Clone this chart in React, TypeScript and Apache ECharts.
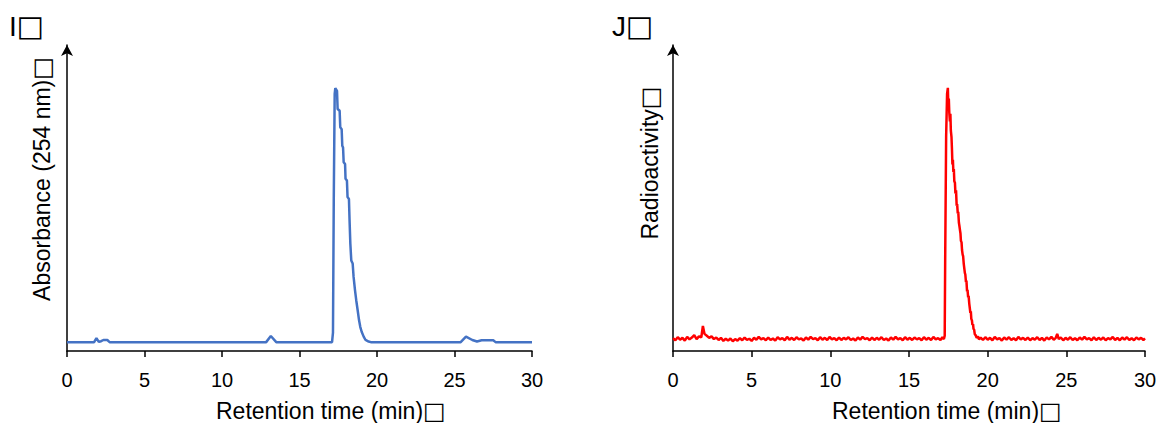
import React, { useEffect, useRef } from "react";
import * as echarts from "echarts";

// Retention time axis (min)
const timeMin = 0;
const timeMax = 30;
const timeStep = 5;

// UV trace at 254 nm: [retention time (min), absorbance (a.u.)]
const uvTrace: [number, number][] = [
  [0, 2.9], [1.75, 2.9], [1.9, 4.2], [2.05, 3.0], [2.2, 3.2], [2.35, 3.6], [2.6, 3.6], [2.75, 2.9],
  [12.85, 2.9], [13.15, 4.9], [13.5, 2.9],
  [17.1, 2.9], [17.16, 6.0], [17.21, 49.0], [17.27, 84.0], [17.31, 85.9], [17.42, 85.0],
  [17.46, 79.1], [17.59, 78.5], [17.63, 73.1], [17.72, 72.5], [17.76, 67.1], [17.81, 66.5],
  [17.85, 61.7], [17.94, 61.1], [17.97, 56.3], [18.06, 55.7], [18.1, 50.3], [18.19, 49.7],
  [18.23, 42.7], [18.28, 35.1], [18.34, 29.6], [18.43, 28.6], [18.49, 24.2], [18.58, 19.9],
  [18.66, 16.6], [18.75, 13.4], [18.84, 10.1], [18.92, 7.9], [19.01, 6.3], [19.14, 4.7],
  [19.26, 3.6], [19.46, 3.1], [19.6, 2.9],
  [25.4, 2.9], [25.74, 4.7], [26.15, 3.6], [26.45, 3.1], [26.75, 3.5], [27.5, 3.5], [27.65, 2.9],
  [30, 2.9],
];

// Radio trace: [retention time (min), counts (a.u.)]
const radioTrace: [number, number][] = [
  [0.0, 4.2], [0.15, 3.5], [0.3, 4.5], [0.45, 3.7], [0.6, 4.3], [0.75, 3.4], [0.9, 4.6], [1.05, 3.8],
  [1.2, 4.4], [1.35, 5.2], [1.5, 3.9], [1.65, 4.8], [1.8, 4.5], [1.9, 8.2], [2.0, 5.6], [2.15, 5.0],
  [2.3, 4.3], [2.45, 4.8], [2.6, 3.9], [2.75, 4.4], [2.9, 3.6], [3.05, 4.3], [3.2, 3.3], [3.35, 4.0],
  [3.5, 3.4], [3.65, 4.1], [3.8, 3.2], [3.95, 3.9], [4.1, 3.4], [4.25, 4.2], [4.4, 3.5], [4.55, 4.4],
  [4.7, 3.6], [4.85, 4.0], [5.0, 3.3], [5.15, 4.3], [5.3, 3.7], [5.45, 4.6], [5.6, 3.8], [5.75, 4.2],
  [5.9, 3.5], [6.05, 4.4], [6.2, 3.6], [6.35, 4.1], [6.5, 3.4], [6.65, 4.5], [6.8, 3.8], [6.95, 4.2],
  [7.1, 3.5], [7.25, 4.6], [7.4, 3.7], [7.55, 4.3], [7.7, 3.6], [7.85, 4.5], [8.0, 3.8], [8.15, 4.1],
  [8.3, 3.4], [8.45, 4.4], [8.6, 3.7], [8.75, 4.6], [8.9, 3.9], [9.05, 4.2], [9.2, 3.5], [9.35, 4.5],
  [9.5, 3.7], [9.65, 4.3], [9.8, 3.6], [9.95, 4.6], [10.1, 3.8], [10.25, 4.2], [10.4, 3.5], [10.55, 4.4],
  [10.7, 3.6], [10.85, 4.3], [11.0, 3.8], [11.15, 4.5], [11.3, 3.6], [11.45, 4.1], [11.6, 3.4], [11.75, 4.4],
  [11.9, 3.7], [12.05, 4.6], [12.2, 3.9], [12.35, 4.2], [12.5, 3.5], [12.65, 4.4], [12.8, 3.6], [12.95, 4.3],
  [13.1, 3.7], [13.25, 4.5], [13.4, 3.6], [13.55, 4.1], [13.7, 3.4], [13.85, 4.4], [14.0, 3.7], [14.15, 4.6],
  [14.3, 3.8], [14.45, 4.2], [14.6, 3.5], [14.75, 4.5], [14.9, 3.7], [15.05, 4.3], [15.2, 3.6], [15.35, 4.4],
  [15.5, 3.8], [15.65, 4.2], [15.8, 3.5], [15.95, 4.5], [16.1, 3.7], [16.25, 4.3], [16.4, 3.6], [16.55, 4.6],
  [16.7, 3.8], [16.85, 4.2], [17.0, 3.6], [17.12, 4.5], [17.22, 3.9],
  [17.27, 5.0], [17.3, 30.0], [17.36, 70.0], [17.42, 84.0], [17.47, 86.0], [17.5, 80.0], [17.53, 82.5],
  [17.56, 78.0], [17.6, 75.0], [17.63, 77.5], [17.66, 72.0], [17.7, 70.0], [17.73, 66.0], [17.76, 61.0],
  [17.79, 62.5], [17.82, 58.5], [17.85, 59.5], [17.88, 55.5], [17.92, 55.0], [17.95, 51.5], [17.99, 52.5],
  [18.03, 47.5], [18.06, 48.0], [18.1, 45.0], [18.13, 45.5], [18.17, 42.0], [18.2, 41.0], [18.24, 39.5],
  [18.27, 38.5], [18.3, 36.0], [18.34, 35.5], [18.37, 33.0], [18.41, 31.5], [18.44, 31.0], [18.48, 28.5],
  [18.51, 28.5], [18.55, 25.5], [18.58, 25.0], [18.62, 22.5], [18.65, 23.0], [18.69, 19.5], [18.72, 20.0],
  [18.76, 17.5], [18.79, 18.0], [18.83, 15.5], [18.86, 15.5], [18.9, 12.5], [18.93, 13.0], [18.96, 10.5],
  [19.0, 10.0], [19.03, 8.5], [19.07, 8.8], [19.1, 7.2], [19.14, 7.0], [19.18, 5.5], [19.23, 5.2],
  [19.3, 4.3], [19.38, 4.8], [19.45, 3.8], [19.55, 4.4],
  [19.7, 3.6], [19.85, 4.5], [20.0, 3.7], [20.15, 4.3], [20.3, 3.5], [20.45, 4.6], [20.6, 3.8], [20.75, 4.2],
  [20.9, 3.4], [21.05, 4.4], [21.2, 3.7], [21.35, 4.5], [21.5, 3.6], [21.65, 4.2], [21.8, 3.5], [21.95, 4.6],
  [22.1, 3.8], [22.25, 4.3], [22.4, 3.6], [22.55, 4.4], [22.7, 3.5], [22.85, 4.2], [23.0, 3.7], [23.15, 4.5],
  [23.3, 3.6], [23.45, 4.3], [23.6, 3.4], [23.75, 4.4], [23.9, 3.8], [24.05, 4.6], [24.2, 3.7], [24.32, 4.2],
  [24.42, 5.6], [24.52, 3.9], [24.65, 4.4], [24.8, 3.5], [24.95, 4.3], [25.1, 3.7], [25.25, 4.5], [25.4, 3.6],
  [25.55, 4.2], [25.7, 3.5], [25.85, 4.4], [26.0, 3.7], [26.15, 4.6], [26.3, 3.8], [26.45, 4.2], [26.6, 3.5],
  [26.75, 4.5], [26.9, 3.6], [27.05, 4.3], [27.2, 3.7], [27.35, 4.4], [27.5, 3.5], [27.65, 4.2], [27.8, 3.8],
  [27.95, 4.6], [28.1, 3.6], [28.25, 4.3], [28.4, 3.5], [28.55, 4.4], [28.7, 3.7], [28.85, 4.5], [29.0, 3.6],
  [29.15, 4.2], [29.3, 3.5], [29.45, 4.4], [29.6, 3.8], [29.75, 4.3], [29.9, 3.6], [30.0, 4.1],
];

const panelLetters = ["I", "J"];
const xTitle = "Retention time (min)";
const yTitles = ["Absorbance (254 nm)", "Radioactivity"];
const boxMark = "\u25A1";

const FONT = "'Liberation Sans', Arial, sans-serif";

export default function App() {
  const ref = useRef<HTMLDivElement>(null);

  useEffect(() => {
    if (!ref.current) return;
    const chart = echarts.init(ref.current, null, { renderer: "svg" });

    const xAxis = (gridIndex: number) => ({
      type: "value",
      gridIndex,
      min: timeMin,
      max: timeMax,
      interval: timeStep,
      axisLine: { show: true, onZero: false, lineStyle: { color: "#000", width: 1.5 } },
      axisTick: { show: true, inside: false, length: 6, lineStyle: { color: "#000", width: 1.5 } },
      axisLabel: { color: "#000", fontSize: 20, fontFamily: FONT, margin: 19 },
      splitLine: { show: false },
    });

    const yAxis = (gridIndex: number) => ({
      type: "value",
      gridIndex,
      min: 0,
      max: 100,
      axisLine: {
        show: true,
        symbol: ["none", "arrow"],
        symbolSize: [9, 11],
        lineStyle: { color: "#000", width: 1.5 },
      },
      axisTick: { show: false },
      axisLabel: { show: false },
      splitLine: { show: false },
    });

    // Label followed by a hollow box glyph
    const titleText = (x: number, y: number, text: string, size: number, rotation = 0) => ({
      type: "text",
      x,
      y,
      rotation,
      style: {
        text: `${text}{box|${boxMark}}`,
        fontSize: size,
        lineHeight: size,
        fontFamily: FONT,
        fill: "#000",
        align: rotation ? "center" : "left",
        verticalAlign: "middle",
        rich: {
          box: {
            fontSize: Math.round(size * 1.05),
            lineHeight: size,
            fontFamily: "'DejaVu Sans', sans-serif",
            fill: "#000",
          },
        },
      },
    });

    chart.setOption({
      animation: false,
      backgroundColor: "#fff",
      grid: [
        { left: 67, right: 1162 - 532, top: 45, bottom: 423 - 351 },
        { left: 673, right: 1162 - 1145, top: 45, bottom: 423 - 351 },
      ],
      xAxis: [xAxis(0), xAxis(1)],
      yAxis: [yAxis(0), yAxis(1)],
      series: [
        {
          type: "line",
          xAxisIndex: 0,
          yAxisIndex: 0,
          data: uvTrace,
          showSymbol: false,
          lineStyle: { color: "#4472C4", width: 2.5 },
        },
        {
          type: "line",
          xAxisIndex: 1,
          yAxisIndex: 1,
          data: radioTrace,
          showSymbol: false,
          lineStyle: { color: "#FF0000", width: 2.5 },
        },
      ],
      graphic: [
        titleText(9, 26, panelLetters[0], 28),
        titleText(612, 26, panelLetters[1], 28),
        titleText(42, 179, yTitles[0], 23, Math.PI / 2),
        titleText(650, 163, yTitles[1], 23, Math.PI / 2),
        titleText(216, 411, xTitle, 23),
        titleText(832, 411, xTitle, 23),
      ],
    });

    return () => chart.dispose();
  }, []);

  return (
    <div
      ref={ref}
      style={{ position: "absolute", left: 0, top: 0, width: 1162, height: 423 }}
    />
  );
}
